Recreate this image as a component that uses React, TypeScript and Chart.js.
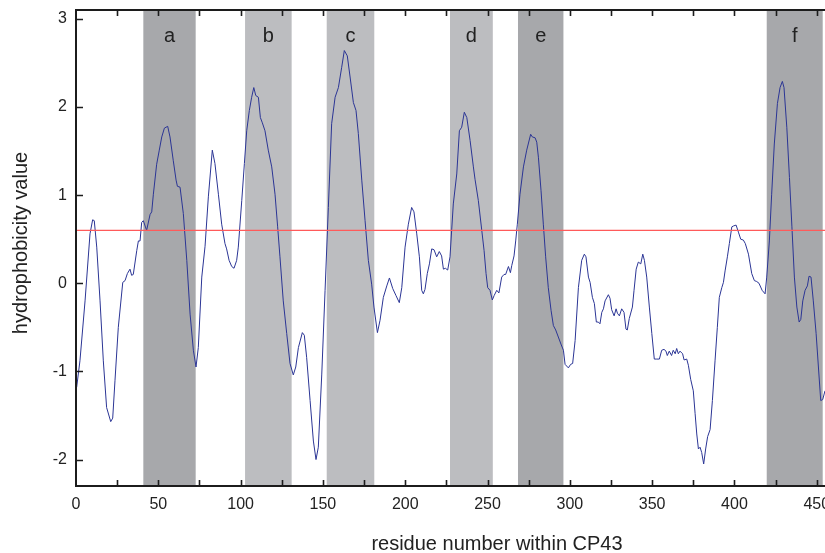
import React, { useEffect, useRef } from "react";
import { Chart, registerables } from "chart.js";

Chart.register(...registerables);

// residue numbers (x) and hydrophobicity values (y)
const residues = [
  0.4, 2.4, 5.5, 8.5, 10.1, 11.1, 12.6, 14.6, 16.6, 18.6, 21.1, 22.3, 23.7, 25.7, 28.4, 29.8, 31.2, 32.8, 33.8, 34.8,
  36.9, 37.9, 38.9, 39.9, 40.9, 42.9, 45.0, 46.0, 47.0, 49.0, 50.6, 52.1, 53.7, 55.7, 57.1, 59.1, 60.8, 61.6, 63.2, 65.2,
  67.3, 69.3, 71.3, 72.9, 74.3, 76.4, 78.4, 80.4, 82.8, 84.4, 86.5, 88.5, 90.5, 91.5, 93.0, 94.6, 96.0, 97.6, 98.6, 100.7,
  102.3, 103.7, 105.3, 106.7, 108.0, 109.2, 110.8, 112.0, 113.2, 114.8, 116.8, 118.9, 120.9, 122.5, 123.9, 125.9, 128.0, 130.0, 132.0, 133.5,
  135.1, 137.5, 138.7, 140.1, 142.2, 144.2, 145.8, 147.2, 149.3, 151.3, 153.3, 155.3, 157.4, 159.4, 161.4, 163.0, 164.8, 166.5, 168.5, 170.1,
  171.5, 173.6, 175.6, 177.6, 179.6, 181.0, 183.1, 184.7, 186.7, 188.8, 190.4, 192.4, 194.4, 196.4, 197.9, 199.9, 201.9, 203.9, 205.3, 207.0,
  208.6, 210.0, 211.0, 212.0, 213.4, 214.7, 216.1, 217.5, 219.1, 220.7, 222.1, 223.2, 224.4, 225.8, 227.2, 229.2, 231.3, 232.9, 234.3, 235.9,
  237.4, 239.4, 241.4, 242.4, 244.4, 246.5, 247.9, 249.1, 250.1, 251.5, 252.9, 254.0, 255.6, 256.9, 258.6, 260.0, 261.0, 262.7, 263.9, 264.7,
  266.1, 267.1, 268.1, 269.7, 271.8, 273.8, 276.2, 277.2, 278.9, 279.9, 280.9, 282.5, 283.9, 285.3, 286.9, 288.6, 290.0, 291.4, 293.0, 294.6,
  296.1, 297.1, 299.1, 300.5, 301.7, 303.2, 305.2, 307.2, 308.8, 309.8, 311.3, 312.3, 313.7, 314.9, 316.1, 317.3, 318.3, 319.4, 320.4, 321.4,
  323.4, 324.4, 325.4, 326.9, 328.1, 328.9, 330.1, 331.5, 332.9, 334.1, 334.9, 336.1, 338.0, 339.0, 340.3, 341.6, 343.1, 344.3, 345.3, 346.7,
  348.3, 349.8, 351.3, 352.8, 354.4, 355.8, 357.2, 358.4, 359.2, 360.4, 361.8, 362.8, 364.0, 364.9, 365.9, 366.9, 368.5, 369.4, 371.0, 372.0,
  373.4, 375.0, 376.1, 377.1, 378.1, 379.1, 380.1, 381.3, 382.5, 383.7, 385.2, 386.6, 388.2, 389.6, 390.8, 392.3, 393.3, 394.3, 395.7, 396.9,
  398.4, 399.4, 401.0, 402.4, 403.8, 405.4, 406.6, 408.5, 410.5, 412.1, 413.5, 414.9, 416.8, 418.6, 419.6, 421.2, 422.6, 424.2, 426.1, 427.7,
  429.1, 430.1, 431.8, 433.4, 434.9, 436.4, 437.9, 439.3, 440.3, 441.5, 442.9, 444.3, 445.3, 446.5, 447.9, 449.6, 451.0, 452.4, 453.6, 455.0,
];

const hydrophobicity = [
  -1.18, -0.88, -0.2, 0.56, 0.72, 0.71, 0.41, -0.2, -0.88, -1.41, -1.57, -1.53, -1.1, -0.5, 0.01, 0.03, 0.11, 0.16, 0.09, 0.1,
  0.37, 0.48, 0.48, 0.69, 0.71, 0.6, 0.78, 0.81, 1.01, 1.35, 1.51, 1.66, 1.76, 1.78, 1.66, 1.39, 1.17, 1.1, 1.09, 0.79,
  0.26, -0.35, -0.76, -0.95, -0.73, 0.07, 0.42, 0.98, 1.51, 1.36, 1.01, 0.67, 0.45, 0.39, 0.26, 0.19, 0.17, 0.26, 0.41, 0.94,
  1.36, 1.73, 1.96, 2.11, 2.22, 2.13, 2.11, 1.88, 1.82, 1.73, 1.51, 1.32, 1.01, 0.64, 0.3, -0.2, -0.57, -0.91, -1.04, -0.95,
  -0.73, -0.56, -0.59, -0.84, -1.33, -1.79, -2.0, -1.86, -1.03, -0.08, 0.86, 1.81, 2.11, 2.22, 2.45, 2.64, 2.58, 2.34, 2.05, 1.96,
  1.7, 1.17, 0.71, 0.26, -0.01, -0.27, -0.56, -0.42, -0.16, -0.03, 0.06, -0.06, -0.14, -0.22, -0.05, 0.41, 0.67, 0.86, 0.81, 0.56,
  0.3, -0.08, -0.12, -0.07, 0.11, 0.22, 0.39, 0.38, 0.3, 0.36, 0.31, 0.16, 0.17, 0.15, 0.3, 0.9, 1.24, 1.73, 1.77, 1.94,
  1.88, 1.62, 1.32, 1.18, 0.94, 0.6, 0.37, 0.11, -0.05, -0.08, -0.19, -0.14, -0.08, -0.11, 0.07, 0.1, 0.1, 0.19, 0.12, 0.2,
  0.31, 0.48, 0.67, 1.01, 1.32, 1.51, 1.69, 1.66, 1.65, 1.6, 1.43, 1.05, 0.67, 0.3, -0.05, -0.31, -0.48, -0.53, -0.61, -0.69,
  -0.76, -0.92, -0.96, -0.92, -0.91, -0.65, -0.05, 0.26, 0.33, 0.3, 0.07, 0.01, -0.16, -0.23, -0.44, -0.44, -0.46, -0.33, -0.29, -0.2,
  -0.13, -0.17, -0.3, -0.37, -0.29, -0.34, -0.37, -0.29, -0.33, -0.52, -0.53, -0.4, -0.27, -0.08, 0.16, 0.24, 0.22, 0.33, 0.26, 0.07,
  -0.27, -0.57, -0.86, -0.86, -0.86, -0.76, -0.75, -0.77, -0.82, -0.77, -0.82, -0.76, -0.8, -0.74, -0.8, -0.77, -0.8, -0.87, -0.86, -0.93,
  -1.09, -1.22, -1.48, -1.71, -1.88, -1.86, -1.92, -2.05, -1.88, -1.74, -1.66, -1.33, -0.88, -0.5, -0.16, -0.05, 0.01, 0.14, 0.3, 0.45,
  0.64, 0.65, 0.66, 0.58, 0.5, 0.49, 0.45, 0.33, 0.11, 0.03, 0.02, 0.0, -0.08, -0.12, 0.07, 0.48, 1.01, 1.58, 2.04, 2.22,
  2.29, 2.22, 1.77, 1.2, 0.64, 0.07, -0.27, -0.44, -0.41, -0.2, -0.08, -0.03, 0.08, 0.07, -0.2, -0.57, -0.95, -1.33, -1.32, -1.22,
];

// shaded transmembrane helix regions
const bandLabels = ["a", "b", "c", "d", "e", "f"];
const bandStarts = [40.9, 102.7, 152.3, 227.2, 268.5, 419.6];
const bandEnds = [72.7, 131.0, 181.2, 253.2, 296.1, 453.6];
const bandDark = [true, false, false, false, true, true];

const threshold = 0.6;
const xMin = 0;
const xMax = 455;
const yMin = -2.3;
const yMax = 3.1;
const xTickStep = 25;
const xLabelStep = 50;
const yTickStep = 1;

const xTitle = "residue number within CP43";
const yTitle = "hydrophobicity value";

const FONT = "'Liberation Sans', Arial, Helvetica, sans-serif";
const DARK_BAND = "#a7a8ab";
const LIGHT_BAND = "#bcbdc0";
const AXIS_COLOR = "#1c1c1c";
const TEXT_COLOR = "#222222";

const bandsPlugin = {
  id: "bands",
  beforeDatasetsDraw(chart: any) {
    const { ctx, chartArea, scales } = chart;
    const xs = scales.x;
    ctx.save();
    for (let i = 0; i < bandStarts.length; i++) {
      const x0 = xs.getPixelForValue(bandStarts[i]);
      const x1 = xs.getPixelForValue(bandEnds[i]);
      ctx.fillStyle = bandDark[i] ? DARK_BAND : LIGHT_BAND;
      ctx.fillRect(x0, chartArea.top, x1 - x0, chartArea.bottom - chartArea.top);
      ctx.fillStyle = TEXT_COLOR;
      ctx.font = `20px ${FONT}`;
      ctx.textAlign = "center";
      ctx.textBaseline = "alphabetic";
      ctx.fillText(bandLabels[i], (x0 + x1) / 2, chartArea.top + 32);
    }
    ctx.restore();
  },
};

const framePlugin = {
  id: "frame",
  afterDatasetsDraw(chart: any) {
    const { ctx, chartArea, scales } = chart;
    const { left, top, bottom, right } = chartArea;
    ctx.save();
    ctx.strokeStyle = AXIS_COLOR;
    ctx.lineWidth = 2;
    ctx.beginPath();
    ctx.moveTo(left, top);
    ctx.lineTo(left, bottom);
    ctx.moveTo(left - 1, top);
    ctx.lineTo(right + 2, top);
    ctx.moveTo(left - 1, bottom);
    ctx.lineTo(right + 2, bottom);
    ctx.stroke();
    ctx.lineWidth = 1.6;
    ctx.beginPath();
    for (const t of scales.x.ticks) {
      const px = Math.round(scales.x.getPixelForValue(t.value)) + 0.5;
      if (t.value <= xMin) continue;
      ctx.moveTo(px, bottom);
      ctx.lineTo(px, bottom - 6);
      ctx.moveTo(px, top);
      ctx.lineTo(px, top + 6);
    }
    for (const t of scales.y.ticks) {
      const py = Math.round(scales.y.getPixelForValue(t.value)) + 0.5;
      ctx.moveTo(left, py);
      ctx.lineTo(left + 7, py);
    }
    ctx.stroke();
    ctx.restore();
  },
  afterDraw(chart: any) {
    const { ctx } = chart;
    ctx.save();
    ctx.fillStyle = TEXT_COLOR;
    ctx.font = `20px ${FONT}`;
    ctx.textAlign = "center";
    ctx.textBaseline = "alphabetic";
    ctx.fillText(xTitle, 497, 550);
    ctx.translate(27, 243);
    ctx.rotate(-Math.PI / 2);
    ctx.fillText(yTitle, 0, 0);
    ctx.restore();
  },
};

export default function App() {
  const ref = useRef<HTMLCanvasElement | null>(null);

  useEffect(() => {
    const canvas = ref.current;
    if (!canvas) return;
    const chart = new Chart(canvas, {
      type: "line",
      data: {
        datasets: [
          {
            data: residues.map((r, i) => ({ x: r, y: hydrophobicity[i] })),
            borderColor: "#2b3595",
            borderWidth: 1,
            pointRadius: 0,
            tension: 0,
            fill: false,
            order: 1,
          },
          {
            data: [
              { x: xMin, y: threshold },
              { x: xMax, y: threshold },
            ],
            borderColor: "#ff5a5a",
            borderWidth: 1.3,
            pointRadius: 0,
            fill: false,
            order: 0,
          },
        ],
      },
      options: {
        responsive: false,
        animation: false,
        events: [],
        layout: { padding: { top: 10, right: 0, bottom: 0, left: 0 } },
        plugins: { legend: { display: false }, tooltip: { enabled: false } },
        scales: {
          x: {
            type: "linear",
            min: xMin,
            max: xMax,
            grid: { display: false, drawTicks: false },
            border: { display: false },
            ticks: {
              stepSize: xTickStep,
              includeBounds: false,
              autoSkip: false,
              maxRotation: 0,
              padding: 9,
              color: TEXT_COLOR,
              font: { family: FONT, size: 16 },
              callback: (v: any) => (Number(v) % xLabelStep === 0 ? String(v) : ""),
            },
            afterFit: (s: any) => {
              s.height = 67;
              s.paddingLeft = 0;
              s.paddingRight = 0;
            },
          },
          y: {
            type: "linear",
            min: yMin,
            max: yMax,
            grid: { display: false, drawTicks: false },
            border: { display: false },
            ticks: {
              stepSize: yTickStep,
              includeBounds: false,
              padding: 9,
              color: TEXT_COLOR,
              font: { family: FONT, size: 16 },
            },
            afterFit: (s: any) => {
              s.width = 76;
              s.paddingTop = 0;
              s.paddingBottom = 0;
            },
          },
        },
      },
      plugins: [bandsPlugin, framePlugin],
    });
    return () => chart.destroy();
  }, []);

  return (
    <div style={{ position: "absolute", left: 0, top: 0, width: 825, height: 553, background: "#fff" }}>
      <canvas ref={ref} width={825} height={553} />
    </div>
  );
}
